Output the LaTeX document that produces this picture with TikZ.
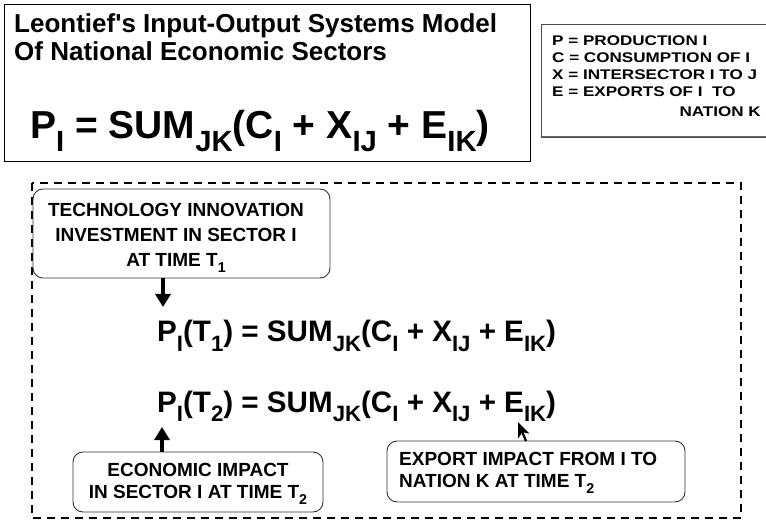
\documentclass[tikz,border=0pt]{standalone}
\usepackage{fontspec}
\usepackage{graphicx}
\setmainfont{Liberation Sans}[BoldFont={Liberation Sans Bold}]
\usetikzlibrary{arrows.meta}
\newcommand\lsb[1]{\raisebox{-0.33em}{\scalebox{0.75}{#1}}}
\newcommand\lgd[1]{\scalebox{1.22}[1]{#1}}
\tikzset{
  x=1pt, y=-1pt,
  plainbox/.style={draw=black, line width=0.9pt},
  roundbox/.style={draw=black!80, line width=0.9pt, rounded corners=10pt},
  txt/.style={font=\bfseries\fontsize{19}{25}\selectfont, inner sep=0pt},
  legend/.style={font=\bfseries\fontsize{14}{17}\selectfont, inner sep=0pt, anchor=base west},
  bigarrow/.style={line width=4pt, -{Triangle[width=15pt,length=13pt]}},
  smallarrow/.style={line width=2.2pt, -{Stealth[width=12pt,length=15pt,inset=4pt]}},
}
\begin{document}
\begin{tikzpicture}
\useasboundingbox (0,0) rectangle (766,521);
% top title box
\draw[plainbox] (4,4) rectangle (530,161);
\node[inner sep=0pt, anchor=base west, font=\bfseries\fontsize{26}{28}\selectfont] (t1) at (14,33) {Leontief\textquotesingle s Input-Output Systems Model};
\node[inner sep=0pt, anchor=base west, font=\bfseries\fontsize{26}{28}\selectfont] (t2) at (14,61) {Of National Economic Sectors};
\node[inner sep=0pt, anchor=base west, font=\bfseries\fontsize{39}{41}\selectfont] (f0) at (30,139) {P\lsb{I} = SUM\lsb{JK}(C\lsb{I} + X\lsb{IJ} + E\lsb{IK})};
% legend
\draw[draw=black!60, line width=1.5pt] (542,137) -- (770,137);
\draw[draw=black!70, line width=0.8pt] (770,137) -- (541,137) -- (541,24) -- (770,24);
\node[legend] (l1) at (552,46) {\lgd{P = PRODUCTION I}};
\node[legend] (l2) at (552,63) {\lgd{C = CONSUMPTION OF I}};
\node[legend] (l3) at (552,80) {\lgd{X = INTERSECTOR I TO J}};
\node[legend] (l4) at (552,97) {\lgd{E = EXPORTS OF I\ \ TO}};
\node[legend, anchor=base east] (l5) at (761,117) {\lgd{NATION K}};
% dashed frame
\draw[line width=1.8pt, dash pattern=on 8pt off 6pt] (32,183) rectangle (741,518);
% technology box
\node[roundbox, minimum width=297pt, minimum height=89pt, inner sep=0pt] (tech) at (181.5,233.5) {};
\node[txt, align=center] (techt) at (176,238) {TECHNOLOGY INNOVATION\\INVESTMENT IN SECTOR I\\AT TIME T\lsb{1}};
% formulas
\node[inner sep=0pt, anchor=base west, font=\bfseries\fontsize{29.6}{31}\selectfont] (f1) at (157,342) {P\lsb{I}(T\lsb{1}) = SUM\lsb{JK}(C\lsb{I} + X\lsb{IJ} + E\lsb{IK})};
\node[inner sep=0pt, anchor=base west, font=\bfseries\fontsize{29.6}{31}\selectfont] (f2) at (157,412) {P\lsb{I}(T\lsb{2}) = SUM\lsb{JK}(C\lsb{I} + X\lsb{IJ} + E\lsb{IK})};
% economic box
\node[roundbox, minimum width=250pt, minimum height=60pt, inner sep=0pt] (econ) at (198,482) {};
\node[txt, align=center, font=\bfseries\fontsize{19}{22}\selectfont] (econt) at (198,484) {ECONOMIC IMPACT\\IN SECTOR I AT TIME T\lsb{2}};
% export box
\node[roundbox, minimum width=298pt, minimum height=61pt, inner sep=0pt] (expo) at (536,471.5) {};
\node[txt, align=left, anchor=west, font=\bfseries\fontsize{19}{22}\selectfont] (expot) at (399,473) {EXPORT IMPACT FROM I TO\\NATION K AT TIME T\lsb{2}};
% arrows
\coordinate (a1) at (163,307);
\coordinate (a2) at (162,427);
\coordinate (a3) at (518,422);
\coordinate (a3s) at (526,441);
\draw[bigarrow] (tech.south -| a1) -- (a1);
\draw[bigarrow] (econ.north -| a2) -- (a2);
\draw[smallarrow] (a3s) -- (a3);
\end{tikzpicture}
\end{document}
